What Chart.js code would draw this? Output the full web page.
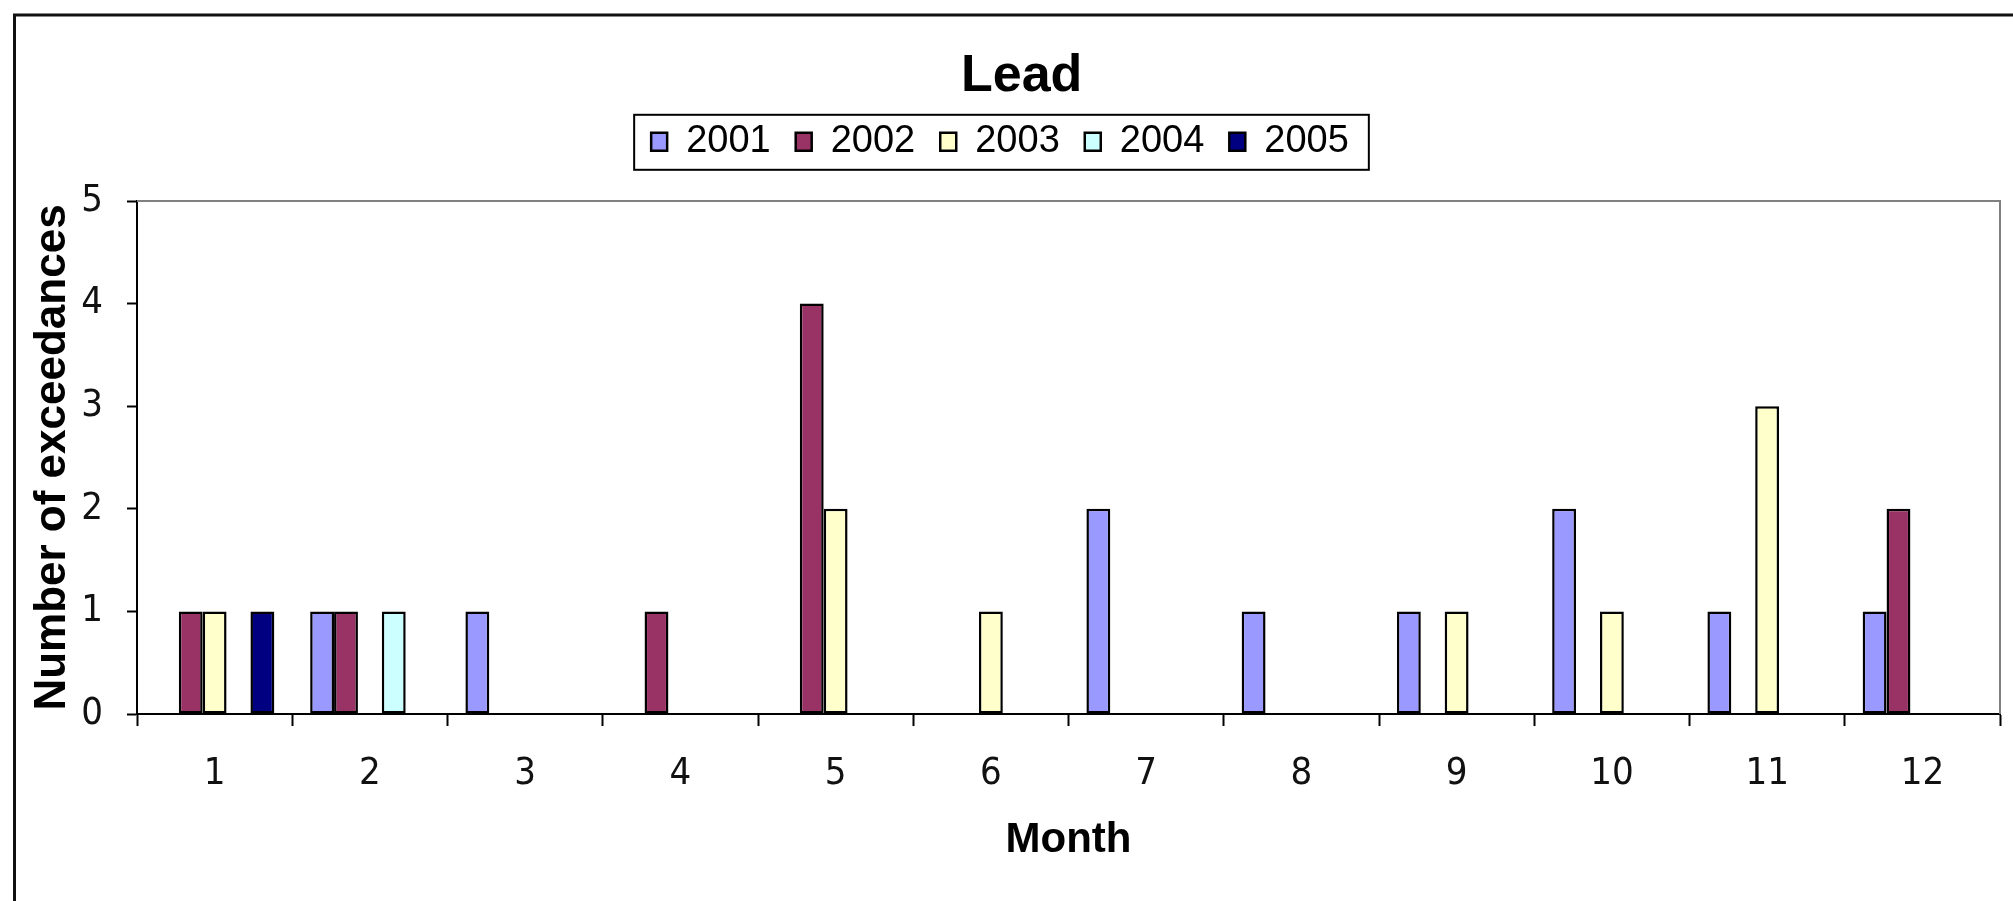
<!DOCTYPE html>
<html><head><meta charset="utf-8">
<script src="https://cdn.jsdelivr.net/npm/chart.js@4.4.0/dist/chart.umd.min.js"></script>
<style>html,body{margin:0;padding:0;background:#fff;overflow:hidden}#wrap{position:relative;width:2013px;height:901px}</style>
</head><body><div id="wrap"><canvas id="c" width="2013" height="901"></canvas></div>
<script>
const months = ['1','2','3','4','5','6','7','8','9','10','11','12'];
const years = ['2001','2002','2003','2004','2005'];
const s2001 = [0,1,1,0,0,0,2,1,1,2,1,1];
const s2002 = [1,1,0,1,4,0,0,0,0,0,0,2];
const s2003 = [1,0,0,0,2,1,0,0,1,1,3,0];
const s2004 = [0,1,0,0,0,0,0,0,0,0,0,0];
const s2005 = [1,0,0,0,0,0,0,0,0,0,0,0];
const seriesValues = [s2001, s2002, s2003, s2004, s2005];
const yTicks = [0,1,2,3,4,5];
const colors = ['#9999FF','#993366','#FFFFCC','#CCFFFF','#000080'];
const FONT = "'Liberation Sans', Arial, sans-serif";
const TICKFONT = "'Liberation Sans Narrow', 'Arial Narrow', 'DejaVu Sans Condensed', 'Liberation Sans', sans-serif";

const datasets = years.map((y, i) => ({
  label: y,
  data: seriesValues[i],
  backgroundColor: colors[i],
  borderColor: '#000',
  borderWidth: 2.5,
  borderSkipped: false,
  barPercentage: 1,
  categoryPercentage: 5/6.5
}));

const framePlugin = {
  id: 'frame',
  beforeDatasetsDraw(chart) {
    const {ctx, chartArea: a} = chart;
    ctx.save();
    ctx.strokeStyle = '#808080';
    ctx.lineWidth = 2;
    ctx.beginPath();
    ctx.moveTo(a.left, a.top);
    ctx.lineTo(a.right, a.top);
    ctx.lineTo(a.right, a.bottom);
    ctx.stroke();
    ctx.restore();
  },
  afterDraw(chart) {
    const ctx = chart.ctx;
    ctx.save();
    ctx.strokeStyle = '#111';
    ctx.lineWidth = 3;
    ctx.beginPath();
    ctx.moveTo(14.5, 901);
    ctx.lineTo(14.5, 15);
    ctx.lineTo(2013, 15);
    ctx.stroke();
    const hb = chart.legend.legendHitBoxes;
    if (hb && hb.length) {
      const first = hb[0], last = hb[hb.length - 1];
      const l = first.left - 17, r = last.left + last.width + 20;
      const t = first.top - 8, b = first.top + first.height + 9;
      ctx.strokeStyle = '#000';
      ctx.lineWidth = 2;
      ctx.strokeRect(l, t, r - l, b - t);
    }
    ctx.restore();
  }
};

new Chart(document.getElementById('c'), {
  type: 'bar',
  data: { labels: months, datasets },
  plugins: [framePlugin],
  options: {
    responsive: false,
    animation: false,
    devicePixelRatio: 1,
    layout: { padding: { left: 0, right: 13, top: 0, bottom: 0 } },
    plugins: {
      tooltip: { enabled: false },
      title: {
        display: true,
        text: '   Lead',
        color: '#000',
        font: { family: FONT, size: 52, weight: 'bold', lineHeight: 0.8 },
        padding: { top: 56.2, bottom: 0 }
      },
      subtitle: {
        display: true,
        text: ' ',
        weight: 500,
        font: { family: FONT, size: 10, lineHeight: 1 },
        padding: { top: 10, bottom: 10.2 }
      },
      legend: {
        display: true,
        position: 'top',
        labels: {
          boxWidth: 16,
          boxHeight: 18,
          padding: 25,
          color: '#000',
          font: { family: FONT, size: 38 }
        }
      }
    },
    scales: {
      x: {
        afterFit(s) { s.height = 187; },
        grid: { display: true, offset: true, drawOnChartArea: false, color: '#000', tickLength: 12, tickWidth: 2 },
        border: { display: true, color: '#000', width: 2 },
        ticks: { color: '#111', padding: 25, font: { family: TICKFONT, size: 38 } },
        title: { display: true, text: 'Month', color: '#000', font: { family: FONT, size: 42, weight: 'bold' }, padding: { top: 20, bottom: 35 } }
      },
      y: {
        afterFit(s) { s.width = 137; },
        min: yTicks[0],
        max: yTicks[yTicks.length - 1],
        afterBuildTicks(s) { s.ticks = yTicks.map(v => ({ value: v })); },
        grid: { display: true, drawOnChartArea: false, color: '#000', tickLength: 10, tickWidth: 2 },
        border: { display: true, color: '#000', width: 2 },
        ticks: { color: '#111', padding: 24, font: { family: TICKFONT, size: 38 } },
        title: { display: true, text: 'Number of exceedances', color: '#000', font: { family: FONT, size: 44, weight: 'bold' }, padding: { top: 26.6, bottom: 0 } }
      }
    }
  }
});
</script></body></html>
